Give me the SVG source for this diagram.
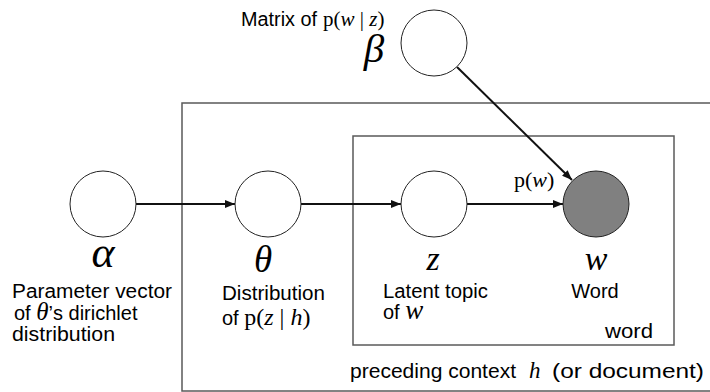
<svg xmlns="http://www.w3.org/2000/svg" width="710" height="392" viewBox="0 0 710 392">
  <style>
    .plate { fill: none; stroke: #5a5a5a; stroke-width: 1.5; }
    .node { fill: #fff; stroke: #222; stroke-width: 1; }
    .obs { fill: #808080; stroke: #222; stroke-width: 1; }
    .edge { stroke: #111; stroke-width: 2; fill: none; marker-end: url(#head); }
    .lbl { font-family: "Liberation Sans", Arial, sans-serif; font-size: 20px; fill: #000; }
    .math { font-family: "Liberation Serif", "Times New Roman", serif; fill: #000; }
    .it { font-style: italic; }
  </style>
  <defs>
    <marker id="head" viewBox="0 0 10 8" refX="10" refY="4" markerWidth="5" markerHeight="4" orient="auto" markerUnits="strokeWidth">
      <path d="M0,0 L10,4 L0,8 z" fill="#111"/>
    </marker>
  </defs>

  <!-- plates -->
  <g id="plate-context">
    <rect class="plate" x="182" y="103" width="540" height="288"/>
    <text class="lbl" y="378"><tspan x="350" textLength="166" lengthAdjust="spacingAndGlyphs">preceding context</tspan><tspan class="math it" x="529" font-size="23">h</tspan><tspan x="552" textLength="152" lengthAdjust="spacingAndGlyphs">(or document)</tspan></text>
  </g>
  <g id="plate-word">
    <rect class="plate" x="353" y="136" width="321" height="209"/>
    <text class="lbl" x="605" y="338" textLength="48" lengthAdjust="spacingAndGlyphs">word</text>
  </g>

  <!-- connectors -->
  <g id="edges">
    <line class="edge" x1="136" y1="204" x2="235" y2="204"/>
    <line class="edge" x1="301" y1="204" x2="401" y2="204"/>
    <line class="edge" x1="467" y1="204" x2="563" y2="204"/>
    <line class="edge" x1="457" y1="67" x2="572" y2="180"/>
  </g>

  <!-- nodes -->
  <g id="node-beta">
    <circle class="node" cx="434" cy="43" r="33"/>
    <text class="lbl" x="241" y="26" font-size="17" textLength="76" lengthAdjust="spacingAndGlyphs">Matrix of</text>
    <text class="math" x="323" y="26" font-size="21">p(<tspan class="it">w</tspan> | <tspan class="it">z</tspan>)</text>
    <text class="math it" x="374" y="62" font-size="41" text-anchor="middle">β</text>
  </g>

  <g id="node-alpha">
    <circle class="node" cx="103" cy="204" r="33"/>
    <text class="math it" x="103" y="267" font-size="44" text-anchor="middle">α</text>
    <text class="lbl" x="12" y="298" textLength="160" lengthAdjust="spacingAndGlyphs">Parameter vector</text>
    <text class="lbl" x="14" y="320">of <tspan class="math it" font-size="25">θ</tspan>’s dirichlet</text>
    <text class="lbl" x="12" y="341" textLength="103" lengthAdjust="spacingAndGlyphs">distribution</text>
  </g>

  <g id="node-theta">
    <circle class="node" cx="268" cy="204" r="33"/>
    <text class="math it" x="263" y="272" font-size="37" text-anchor="middle">θ</text>
    <text class="lbl" x="222" y="300" textLength="103" lengthAdjust="spacingAndGlyphs">Distribution</text>
    <text class="lbl" x="222" y="325">of <tspan class="math" font-size="24">p(<tspan class="it">z</tspan> | <tspan class="it">h</tspan>)</tspan></text>
  </g>

  <g id="node-z">
    <circle class="node" cx="434" cy="204" r="33"/>
    <text class="math it" x="433" y="270" font-size="34" text-anchor="middle">z</text>
    <text class="lbl" x="383" y="298" textLength="105" lengthAdjust="spacingAndGlyphs">Latent topic</text>
    <text class="lbl" x="383" y="319">of <tspan class="math it" font-size="27">w</tspan></text>
  </g>

  <g id="node-w">
    <circle class="obs" cx="596" cy="204" r="33"/>
    <text class="math it" x="596" y="270" font-size="34" text-anchor="middle">w</text>
    <text class="lbl" x="595" y="298" text-anchor="middle">Word</text>
    <text class="math" x="514" y="187" font-size="22">p(<tspan class="it">w</tspan>)</text>
  </g>
</svg>
